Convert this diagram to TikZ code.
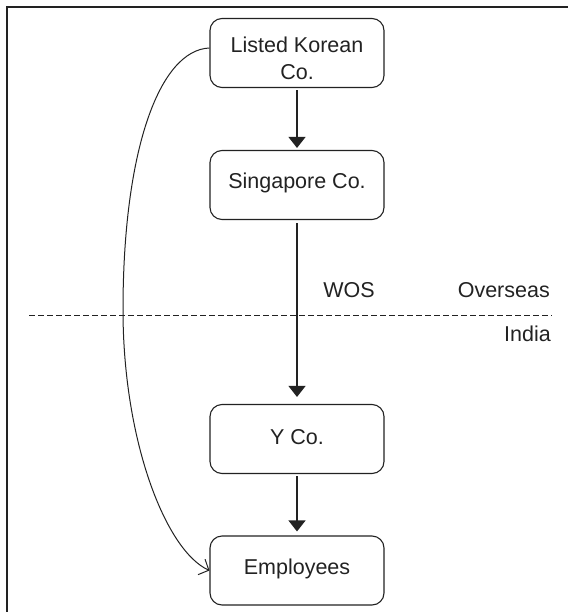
\documentclass[tikz,border=0pt]{standalone}
\usepackage{fontspec}
\setmainfont{Liberation Sans}
\usetikzlibrary{arrows.meta}
\definecolor{ink}{HTML}{222222}
\begin{document}
\begin{tikzpicture}[x=1pt,y=-1pt,
  box/.style={draw=ink, line width=1.1pt, rounded corners=12pt,
    minimum width=174pt, minimum height=69pt, inner sep=0pt},
  boxtext/.style={font=\fontsize{21.5}{27}\selectfont, text=ink, align=center, inner sep=0pt},
  lbl/.style={font=\fontsize{21.5}{26}\selectfont, text=ink, inner sep=0pt},
  flow/.style={draw=ink, line width=1.1pt, -{Triangle[width=17pt,length=11pt]}},
  tie/.style={draw=ink, line width=1pt, -{Straight Barb[length=8pt,width=17pt,line width=1pt]}},
  border/.style={draw=ink, line width=2pt},
  divider/.style={draw=ink, line width=1pt, dash pattern=on 6pt off 3pt},
]
\useasboundingbox (0,0) rectangle (568,612);

% frame along the top and left edges
\draw[border] (7,612) -- (7,7.5) -- (568,7.5);

% entities
\node[box] (kor) at (297,53)    {};
\node[box] (sg)  at (297,185)   {};
\node[box] (yco) at (297,439)   {};
\node[box] (emp) at (297,570.5) {};

\node[boxtext] (kortext) at ([yshift=-5.5pt]kor.center) {Listed Korean\\Co.};
\node[boxtext] (sgtext)  at ([yshift=2.5pt]sg.center)   {Singapore Co.};
\node[boxtext] (ycotext) at ([yshift=2pt]yco.center)    {Y Co.};
\node[boxtext] (emptext) at ([yshift=1.5pt]emp.center)  {Employees};

% overseas / India boundary
\coordinate (divl) at (29,315);
\coordinate (divr) at (552,315);
\draw[divider] (divl) -- (divr);

\node[lbl] (wos)      at (349,290)        {WOS};
\node[lbl, anchor=east] (overseas) at (550,290) {Overseas};
\node[lbl, anchor=east] (india)    at (551,334) {India};

% ownership chain
\draw[flow, shorten <=2pt, shorten >=2pt] (kor.south) -- (sg.north);
\draw[flow, shorten <=3pt, shorten >=7pt] (sg.south) -- (yco.north);
\draw[flow, shorten <=2pt, shorten >=4pt] (yco.south) -- (emp.north);

% direct link from the listed parent to the employees
\coordinate (bend) at (123,310);
\draw[tie] ([yshift=5pt]kor.west) .. controls +(-50,2) and +(0,-160) .. (bend)
  .. controls +(0,130) and +(-44,-20) .. (emp.west);
\end{tikzpicture}
\end{document}
